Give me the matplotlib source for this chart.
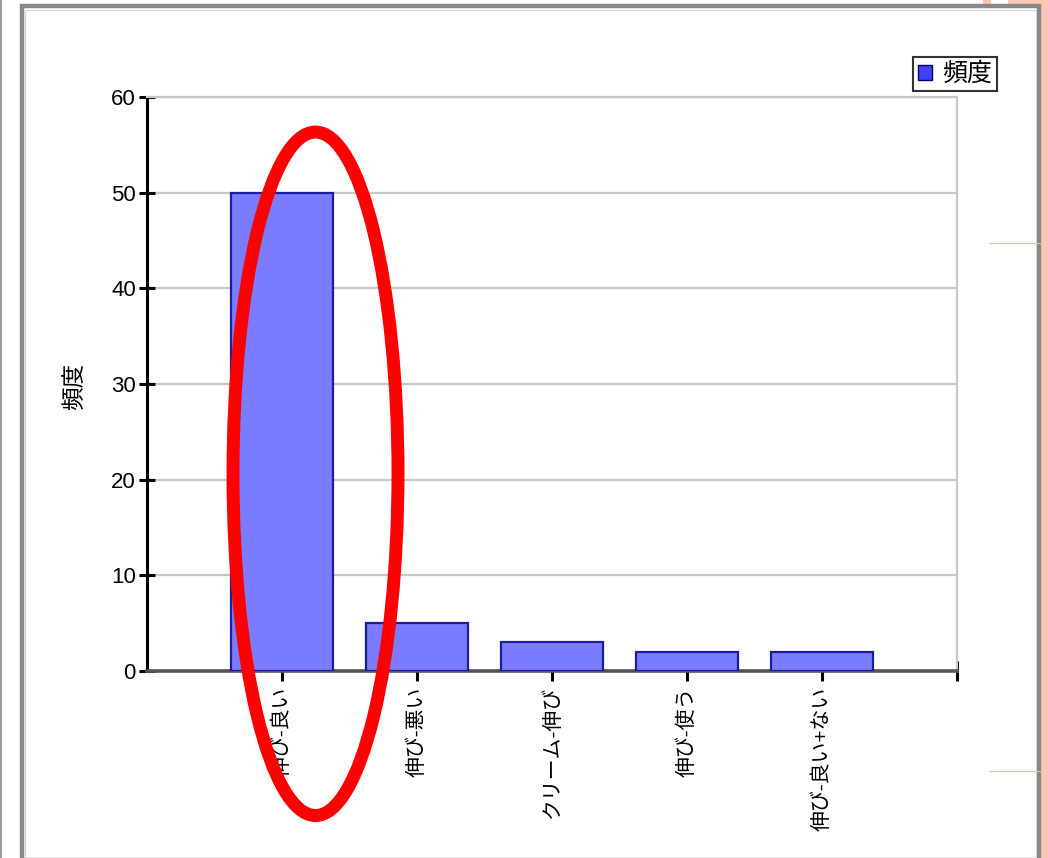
import matplotlib
matplotlib.use("Agg")
import matplotlib.pyplot as plt
from matplotlib.patches import Rectangle, Ellipse, Patch
from matplotlib.lines import Line2D

plt.rcParams['font.family'] = ['Liberation Sans', 'Noto Sans CJK JP', 'DejaVu Sans']

# data
categories = ["伸び-良い", "伸び-悪い", "クリーム-伸び", "伸び-使う", "伸び-良い+ない"]
counts = [50, 5, 3, 2, 2]
series_name = "頻度"
y_ticks = [0, 10, 20, 30, 40, 50, 60]

W, H = 1048, 858
fig = plt.figure(figsize=(W / 100, H / 100), dpi=100)

# slide background bits: pink strip on right, thin line on left
fig.patches.append(Rectangle((1041 / W, 0), 7 / W, 1, transform=fig.transFigure,
                             facecolor='#fcc6b2', edgecolor='none', zorder=-3))
fig.patches.append(Rectangle((983 / W, 1 - 8 / H), 8 / W, 8 / H, transform=fig.transFigure,
                             facecolor='#fcc6b2', edgecolor='none', zorder=-3))
fig.patches.append(Rectangle((1008 / W, 1 - 8 / H), 40 / W, 8 / H, transform=fig.transFigure,
                             facecolor='#fcc6b2', edgecolor='none', zorder=-3))
fig.lines.append(Line2D([1026 / W, 1026 / W], [1 - 8 / H, 1], transform=fig.transFigure,
                        color='#f08040', lw=1.5, zorder=-3))
fig.lines.append(Line2D([0.5 / W, 0.5 / W], [0, 1], transform=fig.transFigure,
                        color='#888888', lw=1.2, zorder=-3))

# chart frame
fig.patches.append(Rectangle((22 / W, -2 / H), (1039 - 22) / W, (860 - 6) / H,
                             transform=fig.transFigure, facecolor='white',
                             edgecolor='#888888', lw=3.2, zorder=-2))
fig.patches.append(Rectangle((25 / W, -2 / H), (1036 - 25) / W, (860 - 10) / H,
                             transform=fig.transFigure, facecolor='none',
                             edgecolor='#d4d4d4', lw=0.8, zorder=-2))

ax = fig.add_axes([147 / W, 1 - 671 / H, (957 - 147) / W, (671 - 97) / H])
ax.set_facecolor('none')
ax.set_zorder(2)

x = list(range(1, len(categories) + 1))
ax.bar(x, counts, width=0.75, color='#7b7bff', edgecolor='#1c1ca0', linewidth=1.6, zorder=3)

ax.set_xlim(0, len(categories) + 1)
ax.set_ylim(0, 60)
ax.set_yticks(y_ticks)
ax.set_xticks(x)
ax.set_xticklabels(categories, rotation=90, fontsize=15)
ax.set_xticks([len(categories) + 1], minor=True)
ax.tick_params(axis='y', direction='inout', length=12, width=2.2, labelsize=16,
               color='black', pad=2)
ax.tick_params(axis='x', which='both', direction='inout', length=14, width=2.2,
               color='black', pad=4)

ax.grid(axis='y', color='#c8c8c8', lw=1.6, zorder=0)
for s in ['top', 'right']:
    ax.spines[s].set_color('#c8c8c8')
    ax.spines[s].set_linewidth(1.6)
ax.spines['left'].set_color('black')
ax.spines['left'].set_linewidth(2.2)
ax.spines['bottom'].set_color('#555555')
ax.spines['bottom'].set_linewidth(2.6)

fig.text(75 / W, 1 - 386 / H, series_name, rotation=90, fontsize=17,
         ha='center', va='center')

handle = Patch(facecolor='#4040ff', edgecolor='#000060', lw=1.0)
leg = fig.legend([handle], [series_name], loc='upper right',
                 bbox_to_anchor=(997 / W, 1 - 57 / H), fontsize=18,
                 frameon=True, fancybox=False, handlelength=0.55, handleheight=0.55,
                 handletextpad=0.4, borderpad=0.2, borderaxespad=0)
leg.get_frame().set_edgecolor('black')
leg.get_frame().set_linewidth(1.5)
leg.set_zorder(5)

# red highlight ellipse
fig.patches.append(Ellipse((315.5 / W, 1 - 473.8 / H), 165 / W, 683.5 / H,
                           transform=fig.transFigure, fill=False,
                           edgecolor='#ff0000', lw=9.3, zorder=10))

# faint slide guide marks
for yy in [243, 771]:
    fig.lines.append(Line2D([990 / W, 1040 / W], [1 - yy / H, 1 - yy / H],
                            transform=fig.transFigure, color='#f8b898', lw=0.8, zorder=11))

fig.savefig("out.png", dpi=100)
